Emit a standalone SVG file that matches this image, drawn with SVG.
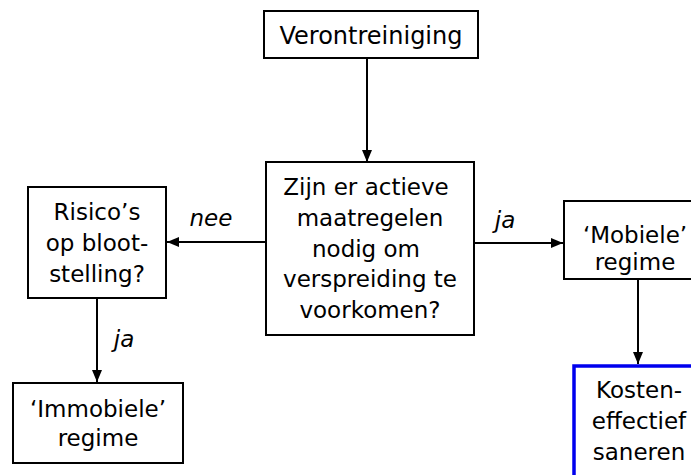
<svg xmlns="http://www.w3.org/2000/svg" width="691" height="475" viewBox="0 0 691 475">
  <defs>
    <marker id="arrow" viewBox="0 0 12 10" refX="12" refY="5" markerWidth="12" markerHeight="10" markerUnits="userSpaceOnUse" orient="auto">
      <path d="M0,0 L12,5 L0,10 z" fill="#000"/>
    </marker>
  </defs>
  <style>
    .box { fill: #fff; stroke: #000; stroke-width: 2; }
    .hl { fill: #fff; stroke: #0000ee; stroke-width: 3.5; }
    .t { font-family: "DejaVu Sans", Verdana, sans-serif; font-size: 23px; fill: #000; text-anchor: middle; }
    .lbl { font-family: "DejaVu Sans", Verdana, sans-serif; font-size: 23px; font-style: italic; fill: #000; text-anchor: middle; }
    .edge { stroke: #000; stroke-width: 2; fill: none; marker-end: url(#arrow); }
  </style>
  <rect width="691" height="475" fill="#fff"/>

  <g id="connectors">
    <line class="edge" x1="367" y1="58" x2="367" y2="162"/>
    <line class="edge" x1="266" y1="242" x2="167" y2="242"/>
    <line class="edge" x1="474" y1="243" x2="563" y2="243"/>
    <line class="edge" x1="97" y1="298" x2="97" y2="382"/>
    <line class="edge" x1="638" y1="279" x2="638" y2="364"/>
    <text class="lbl" x="211" y="226">nee</text>
    <text class="lbl" x="505" y="228">ja</text>
    <text class="lbl" x="124" y="347">ja</text>
  </g>

  <g id="verontreiniging">
    <rect class="box" x="264" y="11" width="214" height="47"/>
    <text class="t" x="371" y="44" style="font-size:24px">Verontreiniging</text>
  </g>

  <g id="vraag">
    <rect class="box" x="266" y="162" width="208" height="173"/>
    <text class="t" x="366" y="195">Zijn er actieve</text>
    <text class="t" x="370" y="226">maatregelen</text>
    <text class="t" x="366" y="257">nodig om</text>
    <text class="t" x="370" y="287">verspreiding te</text>
    <text class="t" x="370" y="318">voorkomen?</text>
  </g>

  <g id="risico">
    <rect class="box" x="28" y="187" width="138" height="111"/>
    <text class="t" x="97" y="220">Risico’s</text>
    <text class="t" x="97" y="251">op bloot-</text>
    <text class="t" x="97" y="282">stelling?</text>
  </g>

  <g id="mobiel">
    <rect class="box" x="564" y="201" width="140" height="78"/>
    <text class="t" x="635" y="243">‘Mobiele’</text>
    <text class="t" x="635" y="270">regime</text>
  </g>

  <g id="immobiel">
    <rect class="box" x="13" y="383" width="170" height="80"/>
    <text class="t" x="98" y="417">‘Immobiele’</text>
    <text class="t" x="98" y="446">regime</text>
  </g>

  <g id="saneren">
    <rect class="hl" x="574" y="366" width="140" height="130"/>
    <text class="t" x="639" y="398">Kosten-</text>
    <text class="t" x="639" y="429">effectief</text>
    <text class="t" x="639" y="460">saneren</text>
  </g>
</svg>
